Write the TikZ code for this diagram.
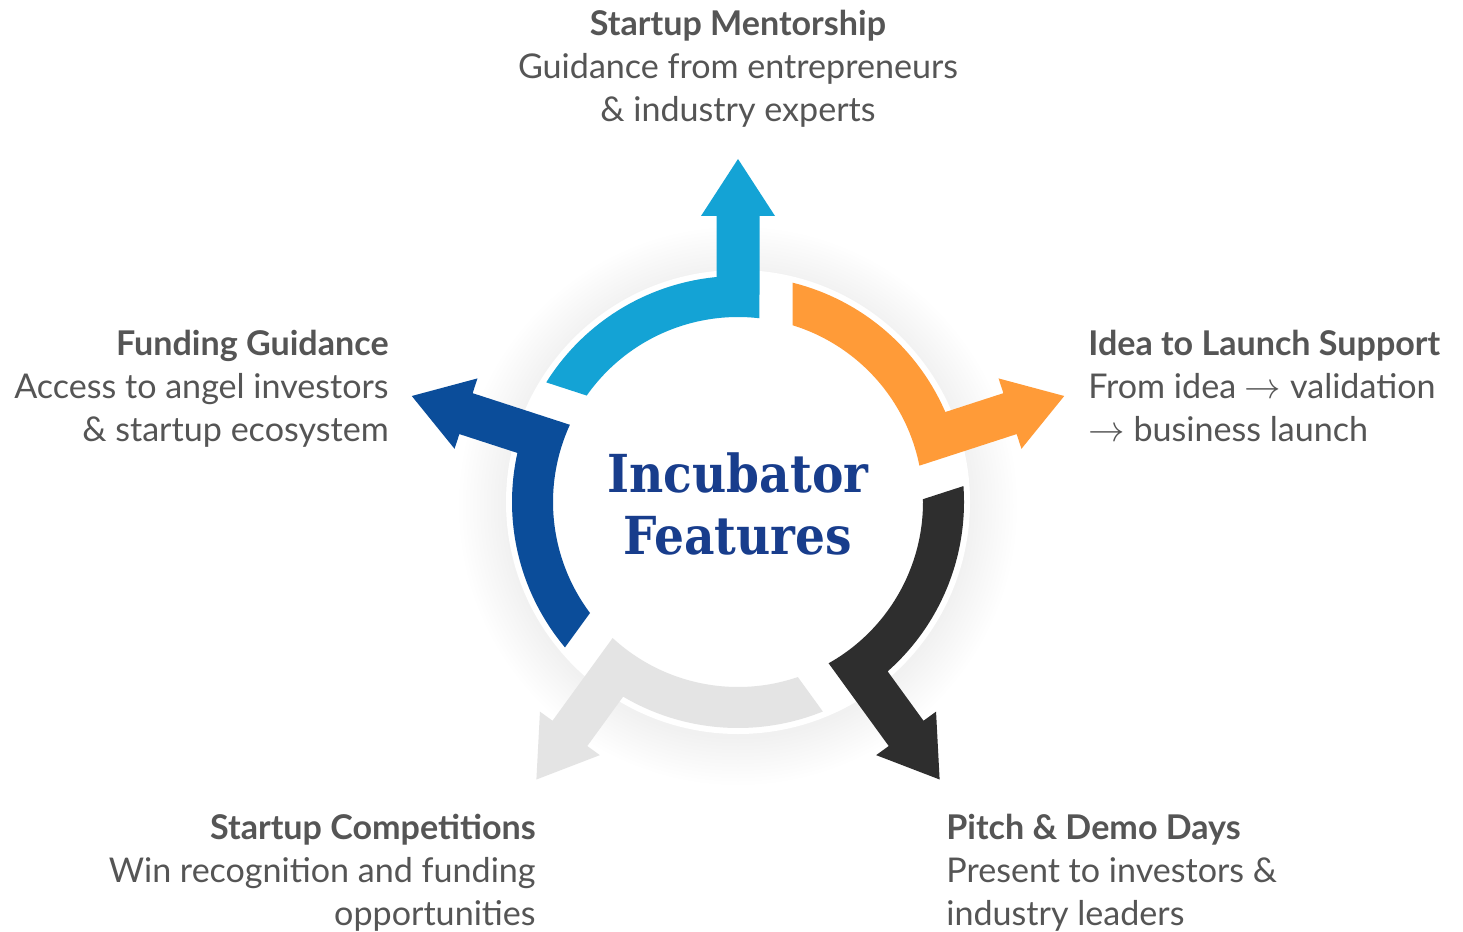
\documentclass[tikz,border=0pt]{standalone}
\usepackage{fontspec}
\setmainfont{Lato}
\newfontfamily\titlefont{DejaVu Serif Condensed}
\usepackage{tikz}

\definecolor{mentor}{HTML}{14A3D5}
\definecolor{launch}{HTML}{FF9B38}
\definecolor{pitch}{HTML}{2E2E2E}
\definecolor{compete}{HTML}{E4E4E4}
\definecolor{funding}{HTML}{0B4D9A}
\definecolor{navy}{HTML}{183D8C}
\definecolor{txtgray}{HTML}{555555}

\begin{document}
\begin{tikzpicture}[x=0.02cm,y=0.02cm]
\tikzstyle{feat}=[text=txtgray,inner sep=0pt,font=\fontsize{19.4}{24.4}\selectfont]
\fill[white] (0,0) rectangle (1463,931);
\useasboundingbox (0,0) rectangle (1463,931);

% faint halo under the ring
\foreach \k in {1,...,14}
  \fill[black,opacity=0.0026] (738,425) circle ({230+3.5*\k});
\fill[white] (738,429) circle (232);

% five curved arrows, one per feature
\foreach \a/\c in {90/mentor,18/launch,-54/pitch,-126/compete,162/funding}
  \fill[\c,shift={(738,429)},rotate=\a] (-6.67:185) -- (286,-21.5) -- (286,-37) -- (343,0) -- (286,37) -- (286,21.5) -- (5.46:226)
    arc[start angle=5.46,end angle=58.04,radius=226] -- (54.87:185) arc[start angle=54.87,end angle=-6.67,radius=185] -- cycle;

\node[text=navy,align=center,inner sep=0pt,font=\titlefont\bfseries\fontsize{29.8}{35.7}\selectfont] (title) at (738,427) {Incubator\\Features};

\node[feat,align=center] (mentorship) at (738,862) {\textbf{Startup Mentorship}\\Guidance from entrepreneurs\\\& industry experts};
\node[feat,align=left,anchor=west] (ideaLaunch) at (1088,545) {\textbf{Idea to Launch Support}\\From idea $\rightarrow$ validation\\$\rightarrow$ business launch};
\node[feat,align=right,anchor=east] (fundingGuide) at (389,542) {\textbf{Funding Guidance}\\Access to angel investors\\\& startup ecosystem};
\node[feat,align=right,anchor=east] (competitions) at (536,58) {\textbf{Startup Competitions}\\Win recognition and funding\\opportunities};
\node[feat,align=left,anchor=west] (pitchDays) at (946,58) {\textbf{Pitch \& Demo Days}\\Present to investors \&\\industry leaders};
\end{tikzpicture}
\end{document}
